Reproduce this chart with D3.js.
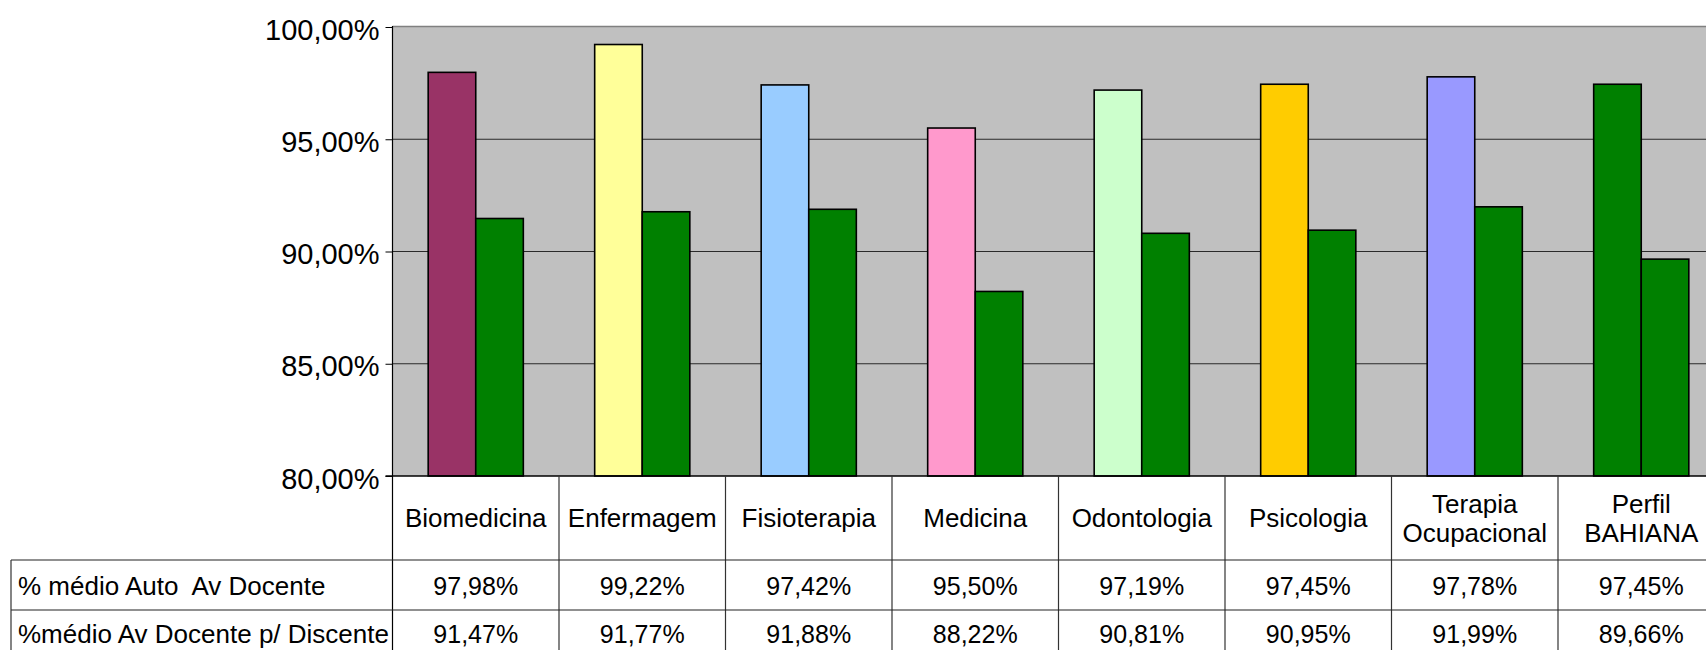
<!DOCTYPE html>
<html>
<head>
<meta charset="utf-8">
<script src="https://cdn.jsdelivr.net/npm/d3@7/dist/d3.min.js"></script>
<style>
  html, body { margin: 0; padding: 0; background: #fff; overflow: hidden; }
  svg { display: block; font-family: "Liberation Sans", Arial, sans-serif; }
</style>
</head>
<body>
<svg id="chart" width="1706" height="650"></svg>
<script>
// ---- data ----
const categories = [
  ["Biomedicina"], ["Enfermagem"], ["Fisioterapia"], ["Medicina"],
  ["Odontologia"], ["Psicologia"], ["Terapia", "Ocupacional"], ["Perfil", "BAHIANA"]
];
const seriesNames = ["% médio Auto  Av Docente", "%médio Av Docente p/ Discente"];
const autoAv = [97.98, 99.22, 97.42, 95.50, 97.19, 97.45, 97.78, 97.45];
const discenteAv = [91.47, 91.77, 91.88, 88.22, 90.81, 90.95, 91.99, 89.66];
const autoColors = ["#993366", "#FFFF99", "#99CCFF", "#FF99CC", "#CCFFCC", "#FFCC00", "#9999FF", "#008000"];
const discenteColor = "#008000";
const yTicks = [80, 85, 90, 95, 100];

(function () {
const fmt = v => v.toFixed(2).replace(".", ",") + "%";
const catKeys = categories.map(c => c.join(" "));

// ---- layout ----
const svg = d3.select("#chart");
const W = 1706;
const pLeft = 392.5, pTop = 27, pBottom = 476;
const bandW = 166.5;
const plotRight = pLeft + bandW * categories.length;

const x0 = d3.scaleBand().domain(catKeys).range([pLeft, plotRight]).padding(0);
const x1 = d3.scaleBand().domain([0, 1]).range([0, x0.bandwidth()]).paddingInner(0).paddingOuter(0.75);
const y = d3.scaleLinear().domain([80, 100]).range([pBottom, pTop]);

// plot background
svg.append("rect")
  .attr("x", pLeft).attr("y", pTop)
  .attr("width", plotRight - pLeft).attr("height", pBottom - pTop)
  .attr("fill", "#C0C0C0");

// gridlines
svg.append("g").selectAll("line")
  .data(yTicks.filter(t => t > 80 && t < 100))
  .join("line")
  .attr("x1", pLeft).attr("x2", plotRight)
  .attr("y1", d => y(d)).attr("y2", d => y(d))
  .attr("stroke", "#2a2a2a").attr("stroke-width", 1.2);

// top border
svg.append("line")
  .attr("x1", pLeft).attr("x2", plotRight)
  .attr("y1", pTop - 0.5).attr("y2", pTop - 0.5)
  .attr("stroke", "#808080").attr("stroke-width", 1.5);

// bars
const groups = svg.append("g").selectAll("g")
  .data(catKeys)
  .join("g")
  .attr("transform", d => `translate(${x0(d)},0)`);

groups.append("rect")
  .attr("x", x1(0)).attr("width", x1.bandwidth())
  .attr("y", (d, i) => y(autoAv[i]))
  .attr("height", (d, i) => y(80) - y(autoAv[i]))
  .attr("fill", (d, i) => autoColors[i])
  .attr("stroke", "#000").attr("stroke-width", 1.6);

groups.append("rect")
  .attr("x", x1(1)).attr("width", x1.bandwidth())
  .attr("y", (d, i) => y(discenteAv[i]))
  .attr("height", (d, i) => y(80) - y(discenteAv[i]))
  .attr("fill", discenteColor)
  .attr("stroke", "#000").attr("stroke-width", 1.6);

// y axis
const yAxis = d3.axisLeft(y).tickValues(yTicks).tickSize(7).tickPadding(6)
  .tickFormat(d => d.toFixed(2).replace(".", ",") + "%");
const ya = svg.append("g").attr("transform", `translate(${pLeft},0)`).call(yAxis);
ya.select(".domain").remove();
ya.selectAll(".tick line").attr("stroke", "#000");
ya.selectAll(".tick text")
  .attr("font-size", 29).attr("fill", "#000")
  .attr("dy", "0.42em")
  .attr("font-family", "Liberation Sans, Arial, sans-serif");
svg.append("line")
  .attr("x1", pLeft).attr("x2", pLeft).attr("y1", pTop - 1).attr("y2", 660)
  .attr("stroke", "#000").attr("stroke-width", 1.2);
// x axis line
svg.append("line")
  .attr("x1", pLeft - 7).attr("x2", plotRight).attr("y1", pBottom).attr("y2", pBottom)
  .attr("stroke", "#000").attr("stroke-width", 1.5);

// ---- data table ----
const row1Top = 560, row2Top = 610, tableBottom = 660;
const tbl = svg.append("g");
tbl.selectAll("line.v")
  .data(catKeys)
  .join("line")
  .attr("x1", (d, i) => x0(d) + x0.bandwidth())
  .attr("x2", (d, i) => x0(d) + x0.bandwidth())
  .attr("y1", pBottom).attr("y2", tableBottom)
  .attr("stroke", "#333").attr("stroke-width", 1.2);
[row1Top, row2Top].forEach(yy => {
  tbl.append("line").attr("x1", 11).attr("x2", W)
    .attr("y1", yy).attr("y2", yy)
    .attr("stroke", "#222").attr("stroke-width", 1.2);
});
tbl.append("line").attr("x1", 11).attr("x2", 11)
  .attr("y1", row1Top).attr("y2", tableBottom)
  .attr("stroke", "#333").attr("stroke-width", 1.2);

// category header labels
tbl.selectAll("text.cat")
  .data(categories)
  .join("text")
  .attr("class", "cat")
  .attr("text-anchor", "middle")
  .attr("font-size", 26)
  .attr("fill", "#000")
  .each(function(lines, i) {
    const cx = x0(catKeys[i]) + x0.bandwidth() / 2;
    const cy = (pBottom + row1Top) / 2;
    const lh = 29;
    const start = cy - (lines.length - 1) * lh / 2;
    d3.select(this).selectAll("tspan")
      .data(lines)
      .join("tspan")
      .attr("x", cx)
      .attr("y", (d, j) => start + j * lh)
      .attr("dy", "0.35em")
      .text(d => d);
  });

// row headers
const rowsData = [autoAv, discenteAv];
const rowTops = [row1Top, row2Top];
const rowMid = [586, 634];
tbl.selectAll("text.rowh")
  .data(seriesNames)
  .join("text")
  .attr("class", "rowh")
  .attr("x", 18)
  .attr("y", (d, i) => rowMid[i])
  .attr("dy", "0.35em")
  .attr("font-size", 26)
  .attr("fill", "#000")
  .style("white-space", "pre")
  .text(d => d);

// values
rowsData.forEach((vals, r) => {
  tbl.append("g").selectAll("text")
    .data(vals)
    .join("text")
    .attr("x", (d, i) => x0(catKeys[i]) + x0.bandwidth() / 2)
    .attr("y", rowMid[r])
    .attr("dy", "0.35em")
    .attr("text-anchor", "middle")
    .attr("font-size", 25)
    .attr("fill", "#000")
    .text(d => fmt(d));
});
})();
</script>
</body>
</html>
